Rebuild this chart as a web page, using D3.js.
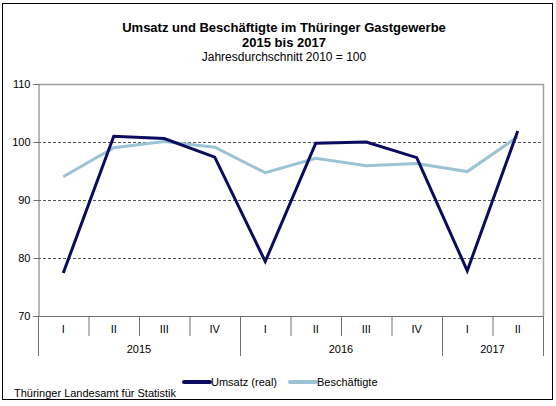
<!DOCTYPE html>
<html lang="de">
<head>
    <meta charset="UTF-8">
    <title>Umsatz und Beschäftigte im Thüringer Gastgewerbe</title>
    <script src="https://d3js.org/d3.v7.min.js"></script>
    <style>
        body { margin: 0; background: #fff; }
        svg { display: block; font-family: "Liberation Sans", Arial, sans-serif; }
    </style>
</head>
<body>
<svg id="canvas"></svg>
<script>
// quarters 2015 I .. 2017 II
let quarters = ["I", "II", "III", "IV", "I", "II", "III", "IV", "I", "II"]
let years = ["2015", "2016", "2017"]
let yearSpans = [[0, 3], [4, 7], [8, 9]]
let umsatz = [77.4, 101.0, 100.6, 97.4, 79.4, 99.8, 100.0, 97.3, 77.8, 101.9]
let beschaeftigte = [94.0, 99.0, 100.1, 99.1, 94.7, 97.2, 95.9, 96.3, 94.9, 100.9]
let yTicks = [70, 80, 90, 100, 110]
let seriesNames = ["Umsatz (real)", "Beschäftigte"]

let width = 556
let height = 406
let plotLeft = 38
let plotRight = 543
let plotTop = 84
let plotBottom = 316

let colUmsatz = "#0b0b5f"
let colBesch = "#9cc3d3"

let svg = d3.select("#canvas")
    .attr("width", width)
    .attr("height", height)

// outer frame
svg.append("rect")
    .attr("x", 2.5).attr("y", 3.5)
    .attr("width", 550).attr("height", 396)
    .attr("fill", "none").attr("stroke", "#000").attr("stroke-width", 1)

// titles
svg.append("text")
    .attr("x", 284).attr("y", 32)
    .attr("text-anchor", "middle")
    .style("font-size", "13px").style("font-weight", "bold")
    .text("Umsatz und Beschäftigte im Thüringer Gastgewerbe")
svg.append("text")
    .attr("x", 284).attr("y", 47)
    .attr("text-anchor", "middle")
    .style("font-size", "13px").style("font-weight", "bold")
    .text("2015 bis 2017")
svg.append("text")
    .attr("x", 284).attr("y", 61)
    .attr("text-anchor", "middle")
    .style("font-size", "12px")
    .text("Jahresdurchschnitt 2010 = 100")

let xScale = d3.scaleBand()
    .domain(d3.range(quarters.length))
    .range([plotLeft, plotRight])

let yScale = d3.scaleLinear()
    .domain([70, 110])
    .range([plotBottom, plotTop])

// gridlines
svg.append("g")
    .selectAll("line")
    .data(yTicks.filter(d => d > 70 && d < 110))
    .enter()
    .append("line")
    .attr("x1", plotLeft).attr("x2", plotRight)
    .attr("y1", d => yScale(d) + 0.5).attr("y2", d => yScale(d) + 0.5)
    .attr("stroke", "#555").attr("stroke-dasharray", "3,2")

// plot border top / right (grey)
svg.append("path")
    .attr("d", `M${plotLeft},${yScale(110) + 0.5}H${plotRight + 0.5}V${yScale(70)}`)
    .attr("fill", "none").attr("stroke", "#a0a0a0").attr("stroke-width", 1.5)

// y axis
let yAxis = d3.axisLeft(yScale)
    .tickValues(yTicks)
    .tickSize(5)
    .tickPadding(3)
svg.append("g")
    .attr("id", "y-axis")
    .attr("transform", "translate(" + (plotLeft + 0.5) + ",0)")
    .call(yAxis)
    .call(g => g.selectAll("text").style("font-size", "11px").attr("fill", "#000"))
    .call(g => g.selectAll("line, path").attr("stroke", "#707070"))

// x axis: quarter labels and separators
let bx = svg.append("g").attr("id", "x-axis")
bx.append("line")
    .attr("x1", plotLeft).attr("x2", plotRight)
    .attr("y1", plotBottom + 0.5).attr("y2", plotBottom + 0.5)
    .attr("stroke", "#707070")

let yearStarts = yearSpans.map(s => s[0])
bx.selectAll(".sep")
    .data(d3.range(quarters.length + 1))
    .enter()
    .append("line")
    .attr("class", "sep")
    .attr("x1", i => i < quarters.length ? xScale(i) + 0.5 : plotRight + 0.5)
    .attr("x2", i => i < quarters.length ? xScale(i) + 0.5 : plotRight + 0.5)
    .attr("y1", plotBottom)
    .attr("y2", i => (i === quarters.length || yearStarts.includes(i)) ? plotBottom + 40 : plotBottom + 20)
    .attr("stroke", "#707070")

bx.selectAll(".q")
    .data(quarters)
    .enter()
    .append("text")
    .attr("class", "q")
    .attr("x", (d, i) => xScale(i) + xScale.bandwidth() / 2)
    .attr("y", plotBottom + 17)
    .attr("text-anchor", "middle")
    .style("font-size", "11px")
    .text(d => d)

bx.selectAll(".yr")
    .data(years)
    .enter()
    .append("text")
    .attr("class", "yr")
    .attr("x", (d, i) => {
        let s = yearSpans[i]
        let x0 = xScale(s[0])
        let x1 = xScale(s[1]) + xScale.bandwidth()
        return (x0 + x1) / 2
    })
    .attr("y", plotBottom + 37)
    .attr("text-anchor", "middle")
    .style("font-size", "11px")
    .text(d => d)

// lines
let line = d3.line()
    .x((d, i) => xScale(i) + xScale.bandwidth() / 2)
    .y(d => yScale(d))

svg.append("path")
    .datum(beschaeftigte)
    .attr("d", line)
    .attr("fill", "none").attr("stroke", colBesch).attr("stroke-width", 3)

svg.append("path")
    .datum(umsatz)
    .attr("d", line)
    .attr("fill", "none").attr("stroke", colUmsatz).attr("stroke-width", 3)

// legend
let legX = [184, 290]
let legCols = [colUmsatz, colBesch]
let leg = svg.append("g")
seriesNames.forEach((name, i) => {
    leg.append("line")
        .attr("x1", legX[i]).attr("x2", legX[i] + 26)
        .attr("y1", 382).attr("y2", 382)
        .attr("stroke", legCols[i]).attr("stroke-width", 4)
        .attr("stroke-linecap", "round")
    leg.append("text")
        .attr("x", legX[i] + 27).attr("y", 386)
        .style("font-size", "11px")
        .text(name)
})

// source
svg.append("text")
    .attr("x", 14).attr("y", 397)
    .style("font-size", "11px")
    .text("Thüringer Landesamt für Statistik")
</script>
</body>
</html>
